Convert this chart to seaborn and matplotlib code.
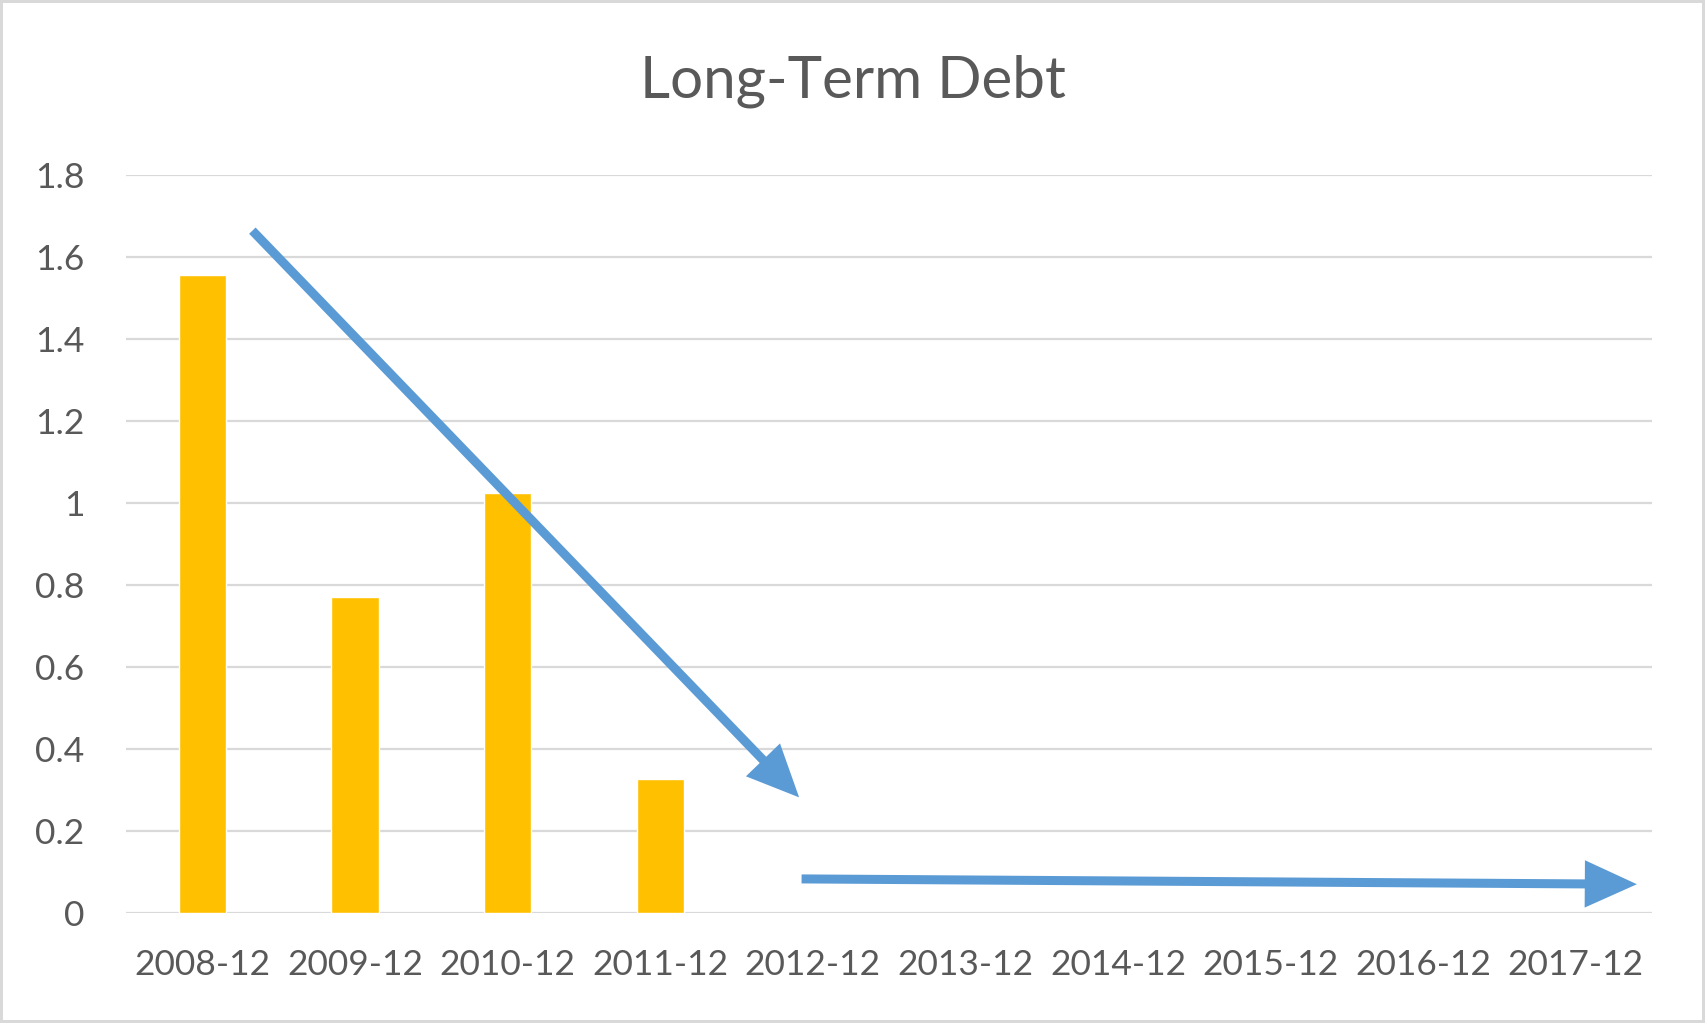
import matplotlib
matplotlib.use("Agg")
import matplotlib.pyplot as plt
import seaborn as sns
import pandas as pd
import numpy as np

# data
periods = ["2008-12", "2009-12", "2010-12", "2011-12", "2012-12",
           "2013-12", "2014-12", "2015-12", "2016-12", "2017-12"]
debt = [1.556, 0.77, 1.025, 0.327, np.nan, np.nan, np.nan, np.nan, np.nan, np.nan]
yticks = [0, 0.2, 0.4, 0.6, 0.8, 1, 1.2, 1.4, 1.6, 1.8]
ytick_labels = ["0", "0.2", "0.4", "0.6", "0.8", "1", "1.2", "1.4", "1.6", "1.8"]

df = pd.DataFrame({"period": periods, "debt": debt})

sns.set_style("white")
plt.rcParams["font.family"] = ["Lato", "DejaVu Sans"]

fig = plt.figure(figsize=(17.05, 10.23), dpi=100, edgecolor="#d9d9d9", linewidth=4)
ax = fig.add_axes([0.074, 0.108, 0.895, 0.721])

sns.barplot(data=df, x="period", y="debt", order=periods, color="#FFC000",
            saturation=1, width=0.31, ax=ax, zorder=2)

ax.set_ylim(0, 1.8)
ax.set_xlim(-0.5, len(periods) - 0.5)
ax.set_yticks(yticks)
ax.set_yticklabels(ytick_labels)
ax.yaxis.grid(True, color="#d9d9d9", lw=1.6, zorder=0)
ax.set_axisbelow(True)
for s in ax.spines.values():
    s.set_visible(False)
ax.tick_params(axis="both", length=0, labelsize=25.5, labelcolor="#595959")
ax.tick_params(axis="x", pad=26)
ax.tick_params(axis="y", pad=30)
ax.set_xlabel("")
ax.set_ylabel("")

# trend arrows drawn on top
arrow = dict(arrowstyle="-|>,head_length=1.1,head_width=0.5", color="#5B9BD5",
             lw=6.5, shrinkA=0, shrinkB=0, mutation_scale=24,
             capstyle="butt", joinstyle="miter")
ax.annotate("", xy=(3.91, 0.281), xytext=(0.327, 1.664), arrowprops=arrow, zorder=5)
ax.annotate("", xy=(9.40, 0.069), xytext=(3.926, 0.082), arrowprops=arrow, zorder=5)

fig.text(0.5, 0.921, "Long-Term Debt", ha="center", va="center",
         fontsize=42, color="#595959")

fig.savefig("out.png", dpi=100, facecolor="white", edgecolor="#d9d9d9")
